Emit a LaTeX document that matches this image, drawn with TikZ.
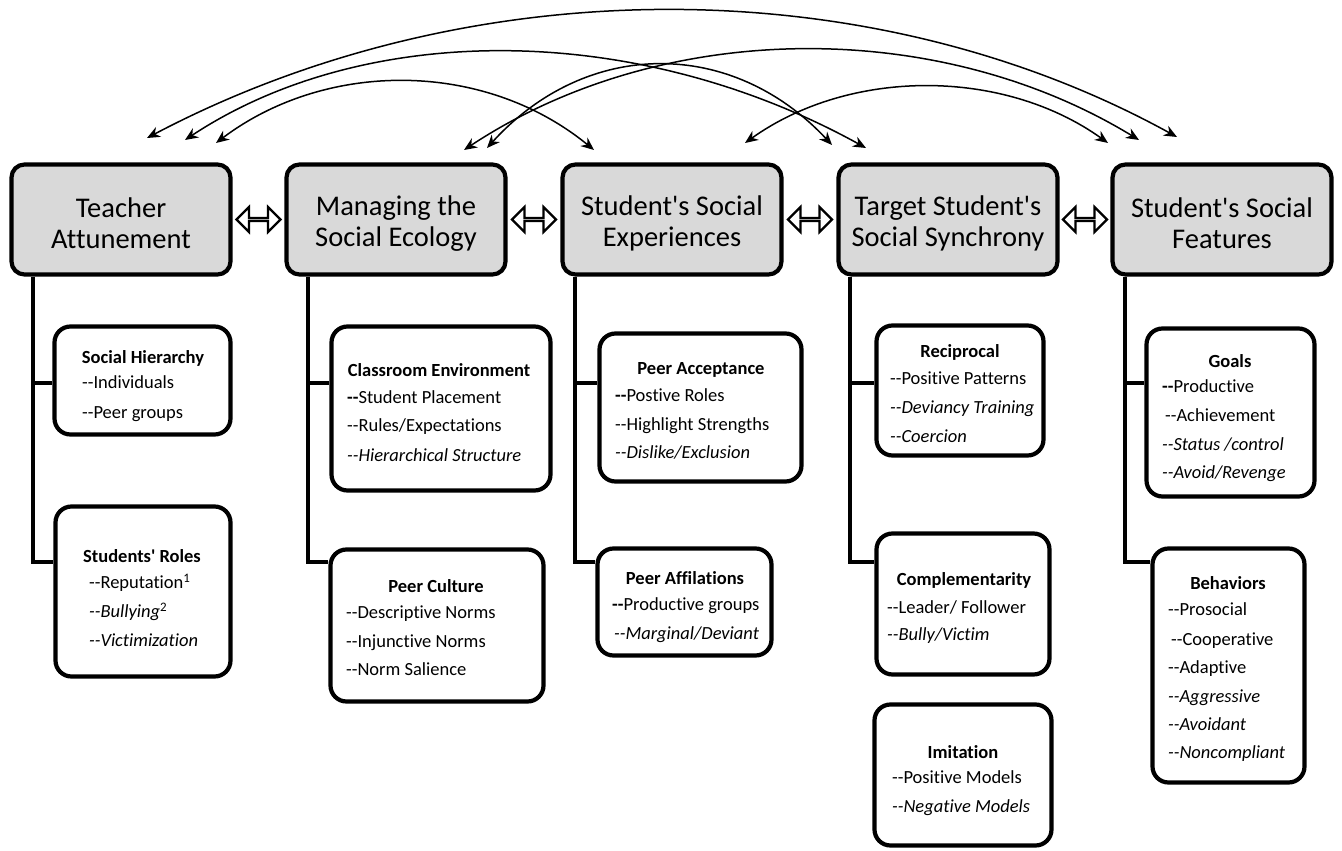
\documentclass[tikz,border=0pt]{standalone}
\usepackage{fontspec}
\setmainfont{Carlito}[Ligatures={TeXOff,NoCommon}]
\usetikzlibrary{arrows.meta,shapes.arrows,calc}
\definecolor{hgray}{HTML}{D9D9D9}
\newcommand\hstrut{\rule{0pt}{28pt}}
\tikzset{
 hdr/.style={draw, line width=4.2pt, fill=hgray, rounded corners=13pt, minimum width=219pt, minimum height=110pt, align=center, font=\fontsize{28.5}{31}\selectfont, inner sep=0pt},
 cbox/.style={draw, line width=4.2pt, fill=white, rounded corners=16pt, inner sep=0pt},
 ttl/.style={font=\fontsize{18.5}{22}\selectfont\bfseries, inner sep=0pt, anchor=mid, yshift=-3pt},
 itm/.style={font=\fontsize{18.5}{22}\selectfont, inner sep=0pt, anchor=mid west, yshift=-3pt},
 iti/.style={itm, font=\fontsize{18.5}{22}\selectfont\itshape},
 conn/.style={line width=4pt},
 arcarrow/.style={line width=1.5pt, {Stealth[length=13pt,width=11pt]}-{Stealth[length=13pt,width=11pt]}},
 darrow/.style={double arrow, draw, fill=white, line width=2.2pt, minimum height=44pt, minimum width=25pt, double arrow head extend=8.5pt, inner sep=0pt}
}
\begin{document}
\begin{tikzpicture}[x=1pt,y=-1pt]
\useasboundingbox (0,0) rectangle (1342,851);

% headers
\node[hdr] (h1) at (121,219.5) {\hstrut Teacher\\Attunement};
\node[hdr] (h2) at (396,219.5) {\hstrut Managing the\\Social Ecology};
\node[hdr] (h3) at (672,219.5) {\hstrut Student's Social\\Experiences};
\node[hdr] (h4) at (948,219.5) {\hstrut Target Student's\\Social Synchrony};
\node[hdr] (h5) at (1222,219.5) {\hstrut Student's Social\\Features};

\node[darrow] (d12) at ($(h1.east)!0.5!(h2.west)$) {};
\node[darrow] (d23) at ($(h2.east)!0.5!(h3.west)$) {};
\node[darrow] (d34) at ($(h3.east)!0.5!(h4.west)$) {};
\node[darrow] (d45) at ($(h4.east)!0.5!(h5.west)$) {};

% child boxes
\node[cbox, minimum width=176pt, minimum height=108pt] (sh) at (142.5,380.5) {};
\node[cbox, minimum width=175pt, minimum height=170pt] (sr) at (143,591.5) {};
\node[cbox, minimum width=219pt, minimum height=164pt] (ce) at (441,408.5) {};
\node[cbox, minimum width=213pt, minimum height=152pt] (pc) at (437,625.5) {};
\node[cbox, minimum width=202pt, minimum height=148pt] (pa) at (700.5,407.5) {};
\node[cbox, minimum width=174pt, minimum height=107pt] (pf) at (684.5,602) {};
\node[cbox, minimum width=167pt, minimum height=130pt] (rc) at (960,390.5) {};
\node[cbox, minimum width=173pt, minimum height=141pt] (cp) at (963,604) {};
\node[cbox, minimum width=177pt, minimum height=141pt] (im) at (963,775) {};
\node[cbox, minimum width=168pt, minimum height=168pt] (gl) at (1230.5,412.5) {};
\node[cbox, minimum width=152pt, minimum height=234pt] (bh) at (1228.5,665.5) {};

% connectors
\draw[conn] (h1.south -| 33,0) -- (33,562) -- (sr.west |- 0,562);
\draw[conn] (33,383) -- (sh.west |- 0,383);
\draw[conn] (h2.south -| 308,0) -- (308,562) -- (pc.west |- 0,562);
\draw[conn] (308,383) -- (ce.west |- 0,383);
\draw[conn] (h3.south -| 575,0) -- (575,562) -- (pf.west |- 0,562);
\draw[conn] (575,383) -- (pa.west |- 0,383);
\draw[conn] (h4.south -| 850,0) -- (850,562) -- (cp.west |- 0,562);
\draw[conn] (850,383) -- (rc.west |- 0,383);
\draw[conn] (h5.south -| 1125,0) -- (1125,562) -- (bh.west |- 0,562);
\draw[conn] (1125,383) -- (gl.west |- 0,383);

% texts
\node[ttl] (sh0) at (143,358) {Social Hierarchy};
\node[itm] (sh1) at (82,383) {--Individuals};
\node[itm] (sh2) at (82,413) {--Peer groups};

\node[ttl] (sr0) at (142,557) {Students' Roles};
\node[itm] (sr1) at (89,583) {--Reputation\textsuperscript{1}};
\node[iti] (sr2) at (89,612) {--Bullying\textsuperscript{\upshape 2}};
\node[iti] (sr3) at (89,641) {--Victimization};

\node[ttl] (ce0) at (439,371) {Classroom Environment};
\node[itm] (ce1) at (347,398) {\textbf{--}Student Placement};
\node[itm] (ce2) at (347,426) {--Rules/Expectations};
\node[iti] (ce3) at (347,456) {--Hierarchical Structure};

\node[ttl] (pc0) at (436,587) {Peer Culture};
\node[itm] (pc1) at (346,613) {--Descriptive Norms};
\node[itm] (pc2) at (346,642) {--Injunctive Norms};
\node[itm] (pc3) at (346,670) {--Norm Salience};

\node[ttl] (pa0) at (701,369) {Peer Acceptance};
\node[itm] (pa1) at (615,396) {\textbf{--}Postive Roles};
\node[itm] (pa2) at (615,425) {--Highlight Strengths};
\node[iti] (pa3) at (615,453) {--Dislike/Exclusion};

\node[ttl] (pf0) at (685,579) {Peer Affilations};
\node[itm] (pf1) at (612,605) {\textbf{--}Productive groups};
\node[iti] (pf2) at (614,634) {--Marginal/Deviant};

\node[ttl] (rc0) at (960,352) {Reciprocal};
\node[itm] (rc1) at (890,379) {--Positive Patterns};
\node[iti] (rc2) at (890,408) {--Deviancy Training};
\node[iti] (rc3) at (890,437) {--Coercion};

\node[ttl] (cp0) at (964,580) {Complementarity};
\node[itm] (cp1) at (887,608) {--Leader/ Follower};
\node[iti] (cp2) at (887,635) {--Bully/Victim};

\node[ttl] (im0) at (963,753) {Imitation};
\node[itm] (im1) at (892,778) {--Positive Models};
\node[iti] (im2) at (892,807) {--Negative Models};

\node[ttl] (gl0) at (1230,362) {Goals};
\node[itm] (gl1) at (1162,387) {\textbf{--}Productive};
\node[itm] (gl2) at (1165,416) {--Achievement};
\node[iti] (gl3) at (1162,445) {--Status /control};
\node[iti] (gl4) at (1162,473) {--Avoid/Revenge};

\node[ttl] (bh0) at (1228,584) {Behaviors};
\node[itm] (bh1) at (1168,610) {--Prosocial};
\node[itm] (bh2) at (1171,640) {--Cooperative};
\node[itm] (bh3) at (1168,668) {--Adaptive};
\node[iti] (bh4) at (1168,697) {--Aggressive};
\node[iti] (bh5) at (1168,725) {--Avoidant};
\node[iti] (bh6) at (1168,753) {--Noncompliant};

% arc tips
\coordinate (a15) at (147,138);
\coordinate (a14) at (185,140);
\coordinate (a13) at (216,143);
\coordinate (m25) at (464,150);
\coordinate (m24) at (487,148);
\coordinate (s13) at (594,150);
\coordinate (s35) at (745,143);
\coordinate (t24) at (832,145);
\coordinate (t14) at (866,148);
\coordinate (f35) at (1108,143);
\coordinate (f25) at (1139,140);
\coordinate (f15) at (1177,137);

\draw[arcarrow] (a15) .. controls (470,-32) and (870,-32) .. (f15);
\draw[arcarrow] (a14) .. controls (365,21) and (636,21) .. (t14);
\draw[arcarrow] (a13) .. controls (326,60) and (484,60) .. (s13);
\draw[arcarrow] (m25) .. controls (664,18) and (939,18) .. (f25);
\draw[arcarrow] (m24) .. controls (587,38) and (732,38) .. (t24);
\draw[arcarrow] (s35) .. controls (850,68) and (1003,68) .. (f35);
\end{tikzpicture}
\end{document}
